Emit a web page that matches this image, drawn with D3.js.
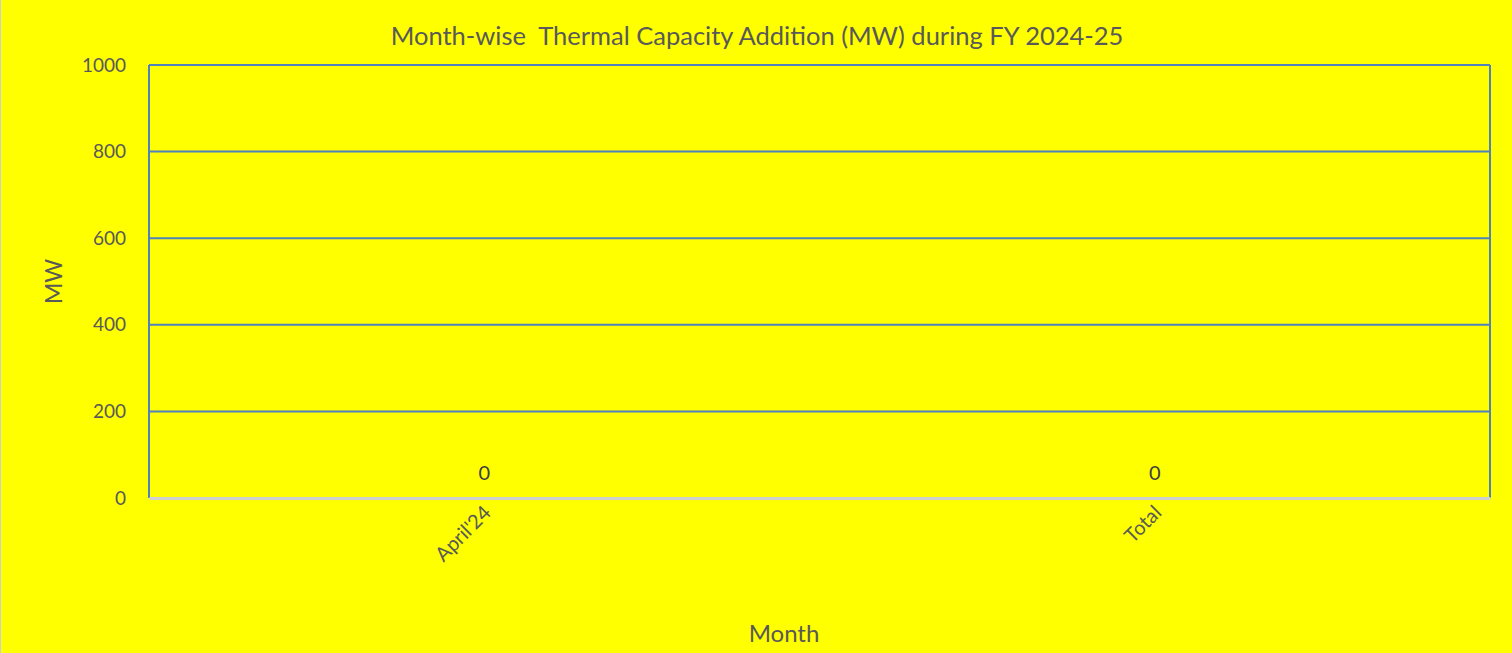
<!DOCTYPE html>
<html>
<head>
<meta charset="utf-8">
<script src="https://cdn.jsdelivr.net/npm/d3@7"></script>
<style>
  body { margin: 0; background: #ffff00; overflow: hidden; }
  svg { display: block; font-family: Lato, "Open Sans", sans-serif; }
</style>
</head>
<body>
<svg id="chart"></svg>
<script>
var months = ["April'24", "Total"];
var capacity = [0, 0];
var yTicks = [0, 200, 400, 600, 800, 1000];

var width = 1512, height = 653;
var margin = { top: 65, right: 22, bottom: 155, left: 149 };
var plotW = width - margin.left - margin.right;
var plotH = height - margin.top - margin.bottom;
var textColor = "#595959";
var gridColor = "#4f81bd";

var svg = d3.select("#chart")
    .attr("width", width)
    .attr("height", height);

svg.append("rect")
    .attr("width", width)
    .attr("height", height)
    .attr("fill", "#ffff00");

// thin chart border visible on the left edge
svg.append("line")
    .attr("x1", 0.5).attr("x2", 0.5)
    .attr("y1", 0).attr("y2", height)
    .attr("stroke", "#c6cfe0")
    .attr("stroke-width", 1);

var g = svg.append("g")
    .attr("transform", "translate(" + margin.left + "," + margin.top + ")");

var x = d3.scaleBand()
    .domain(months)
    .range([0, plotW]);

var y = d3.scaleLinear()
    .domain([0, 1000])
    .range([plotH, 0]);

// gridlines
g.append("g")
    .selectAll("line")
    .data(yTicks.filter(d => d > 0))
    .join("line")
    .attr("x1", 0)
    .attr("x2", plotW)
    .attr("y1", d => y(d))
    .attr("y2", d => y(d))
    .attr("stroke", gridColor)
    .attr("stroke-width", 2);

// plot frame left & right
g.append("line")
    .attr("x1", 0).attr("x2", 0)
    .attr("y1", 0).attr("y2", plotH)
    .attr("stroke", gridColor).attr("stroke-width", 2);
g.append("line")
    .attr("x1", plotW).attr("x2", plotW)
    .attr("y1", 0).attr("y2", plotH)
    .attr("stroke", gridColor).attr("stroke-width", 2);

// y axis labels
var yAxis = g.append("g")
    .call(d3.axisLeft(y).tickValues(yTicks).tickFormat(d3.format("d")).tickSize(0).tickPadding(23));
yAxis.select(".domain").remove();
yAxis.selectAll("text")
    .attr("fill", textColor)
    .style("font-size", "19px")
    .style("font-family", "Lato, 'Open Sans', sans-serif");

// x axis
var xAxis = g.append("g")
    .attr("transform", "translate(0," + plotH + ")")
    .call(d3.axisBottom(x).tickSize(0).tickPadding(0));
xAxis.select(".domain")
    .attr("stroke", "#d0d0d0")
    .attr("stroke-width", 3);
xAxis.selectAll("text")
    .attr("fill", textColor)
    .style("font-size", "20px")
    .style("font-family", "Lato, 'Open Sans', sans-serif")
    .attr("text-anchor", "end")
    .attr("dy", null)
    .attr("transform", "translate(8,16) rotate(-45)");

// bars (zero height)
g.append("g")
    .selectAll("rect")
    .data(capacity)
    .join("rect")
    .attr("x", (d, i) => x(months[i]) + x.bandwidth() * 0.3)
    .attr("width", x.bandwidth() * 0.4)
    .attr("y", d => y(d))
    .attr("height", d => plotH - y(d))
    .attr("fill", "#4f81bd");

// data labels
g.append("g")
    .selectAll("text")
    .data(capacity)
    .join("text")
    .attr("x", (d, i) => x(months[i]) + x.bandwidth() / 2)
    .attr("y", d => y(d) - 18)
    .attr("text-anchor", "middle")
    .attr("fill", "#404040")
    .style("font-size", "20px")
    .text(d => d);

// title
svg.append("text")
    .attr("x", 757)
    .attr("y", 45)
    .attr("text-anchor", "middle")
    .attr("fill", textColor)
    .style("font-size", "25.5px")
    .style("white-space", "pre")
    .text("Month-wise  Thermal Capacity Addition (MW) during FY 2024-25");

// axis titles
svg.append("text")
    .attr("transform", "translate(62," + (margin.top + plotH / 2) + ") rotate(-90)")
    .attr("text-anchor", "middle")
    .attr("fill", textColor)
    .style("font-size", "23px")
    .text("MW");

svg.append("text")
    .attr("x", 784)
    .attr("y", 642)
    .attr("text-anchor", "middle")
    .attr("fill", textColor)
    .style("font-size", "24px")
    .text("Month");
</script>
</body>
</html>
